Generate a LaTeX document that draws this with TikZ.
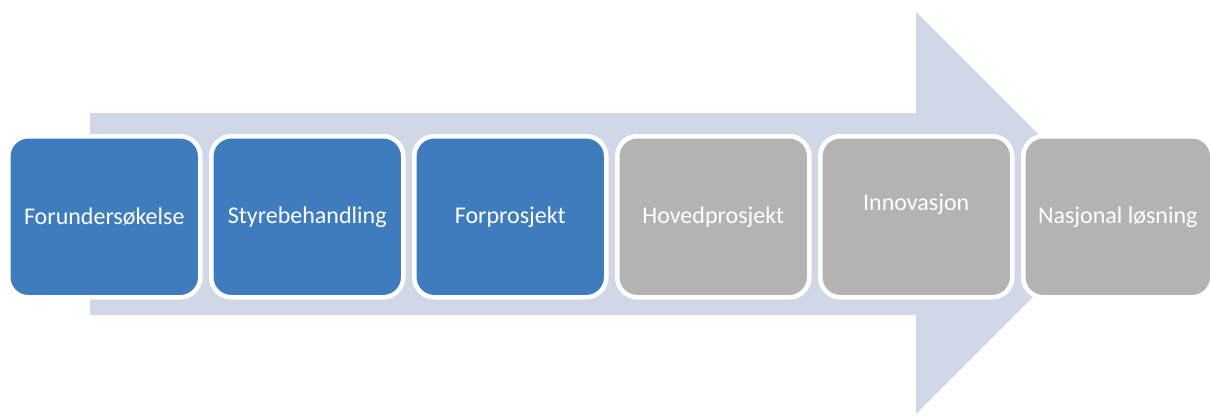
\documentclass[tikz,border=0pt]{standalone}
\usepackage{fontspec}
\setmainfont{Carlito}
\definecolor{arrowc}{HTML}{D0D8E8}
\definecolor{bluec}{HTML}{3F7CBD}
\definecolor{grayc}{HTML}{B3B3B3}
\begin{document}
\begin{tikzpicture}[x=1pt,y=-1pt,
  stage/.style={draw=white,line width=4.5pt,rounded corners=20pt,minimum width=192pt,minimum height=161pt,inner sep=0pt,text=white,font=\fontsize{24}{28}\selectfont,anchor=north west},
  bluebox/.style={stage,fill=bluec},
  graybox/.style={stage,fill=grayc}]
\useasboundingbox (0,0) rectangle (1210,415);
\fill[arrowc] (90,113) -- (916,113) -- (916,12) -- (1117,213) -- (916,414) -- (916,315) -- (90,315) -- cycle;
\node[bluebox] (b1) at (6,134) {Forundersøkelse};
\node[bluebox] (b2) at (209,134) {Styrebehandling};
\node[bluebox] (b3) at (412,134) {Forprosjekt};
\node[graybox] (b4) at (615,134) {Hovedprosjekt};
\node[graybox,text depth=30pt] (b5) at (818,134) {Innovasjon};
\node[graybox,minimum width=189pt] (b6) at (1021,134) {Nasjonal løsning};
\end{tikzpicture}
\end{document}
